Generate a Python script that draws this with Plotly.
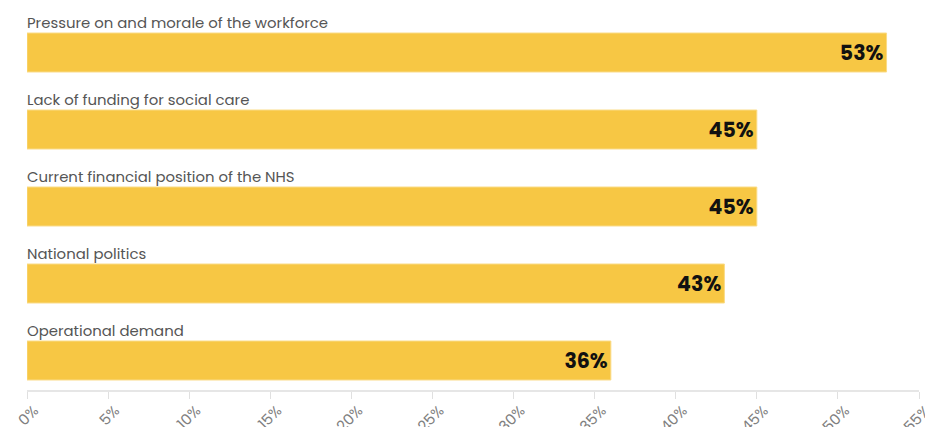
import plotly.graph_objects as go

categories = [
    "Pressure on and morale of the workforce",
    "Lack of funding for social care",
    "Current financial position of the NHS",
    "National politics",
    "Operational demand",
]
values = [53, 45, 45, 43, 36]
tick_vals = [0, 5, 10, 15, 20, 25, 30, 35, 40, 45, 50, 55]
tick_text = [f"{v}%" for v in tick_vals]

bar_color = "#F7C744"

fig = go.Figure()
fig.add_trace(go.Bar(
    x=values,
    y=list(range(len(categories))),
    orientation="h",
    width=0.506,
    marker=dict(color=bar_color, line=dict(color="#FADB86", width=1)),
    text=[f"{v}%" for v in values],
    textposition="inside",
    insidetextanchor="end",
    textfont=dict(family="Poppins, Inter, sans-serif", size=20.5, color="#111111", weight="bold"),
    hoverinfo="skip",
    cliponaxis=False,
))

for i, c in enumerate(categories):
    fig.add_annotation(
        x=0, y=i, xref="x", yref="y", text=c, showarrow=False,
        xanchor="left", yanchor="middle", yshift=30, xshift=-2,
        font=dict(family="Poppins, Inter, sans-serif", size=14.9, color="#555555"),
    )

fig.update_layout(
    width=925, height=427,
    margin=dict(l=27, r=6, t=0, b=37),
    paper_bgcolor="white", plot_bgcolor="white",
    showlegend=False,
    xaxis=dict(
        range=[0, 55], tickvals=tick_vals, ticktext=tick_text,
        tickangle=-45, showgrid=False, zeroline=False, automargin=False,
        showline=True, linecolor="#E6E6E6", linewidth=2,
        ticks="outside", ticklen=7, tickcolor="#E0E0E0", tickwidth=1,
        ticklabeloverflow="allow", ticklabelstandoff=-3, ticklabelshift=7,
        tickfont=dict(family="Poppins, Inter, sans-serif", size=15, color="#808080"),
    ),
    yaxis=dict(
        range=[4.383, -0.682], showticklabels=False, showgrid=False,
        zeroline=False, showline=False, automargin=False,
    ),
)

fig.write_html("out.html")
